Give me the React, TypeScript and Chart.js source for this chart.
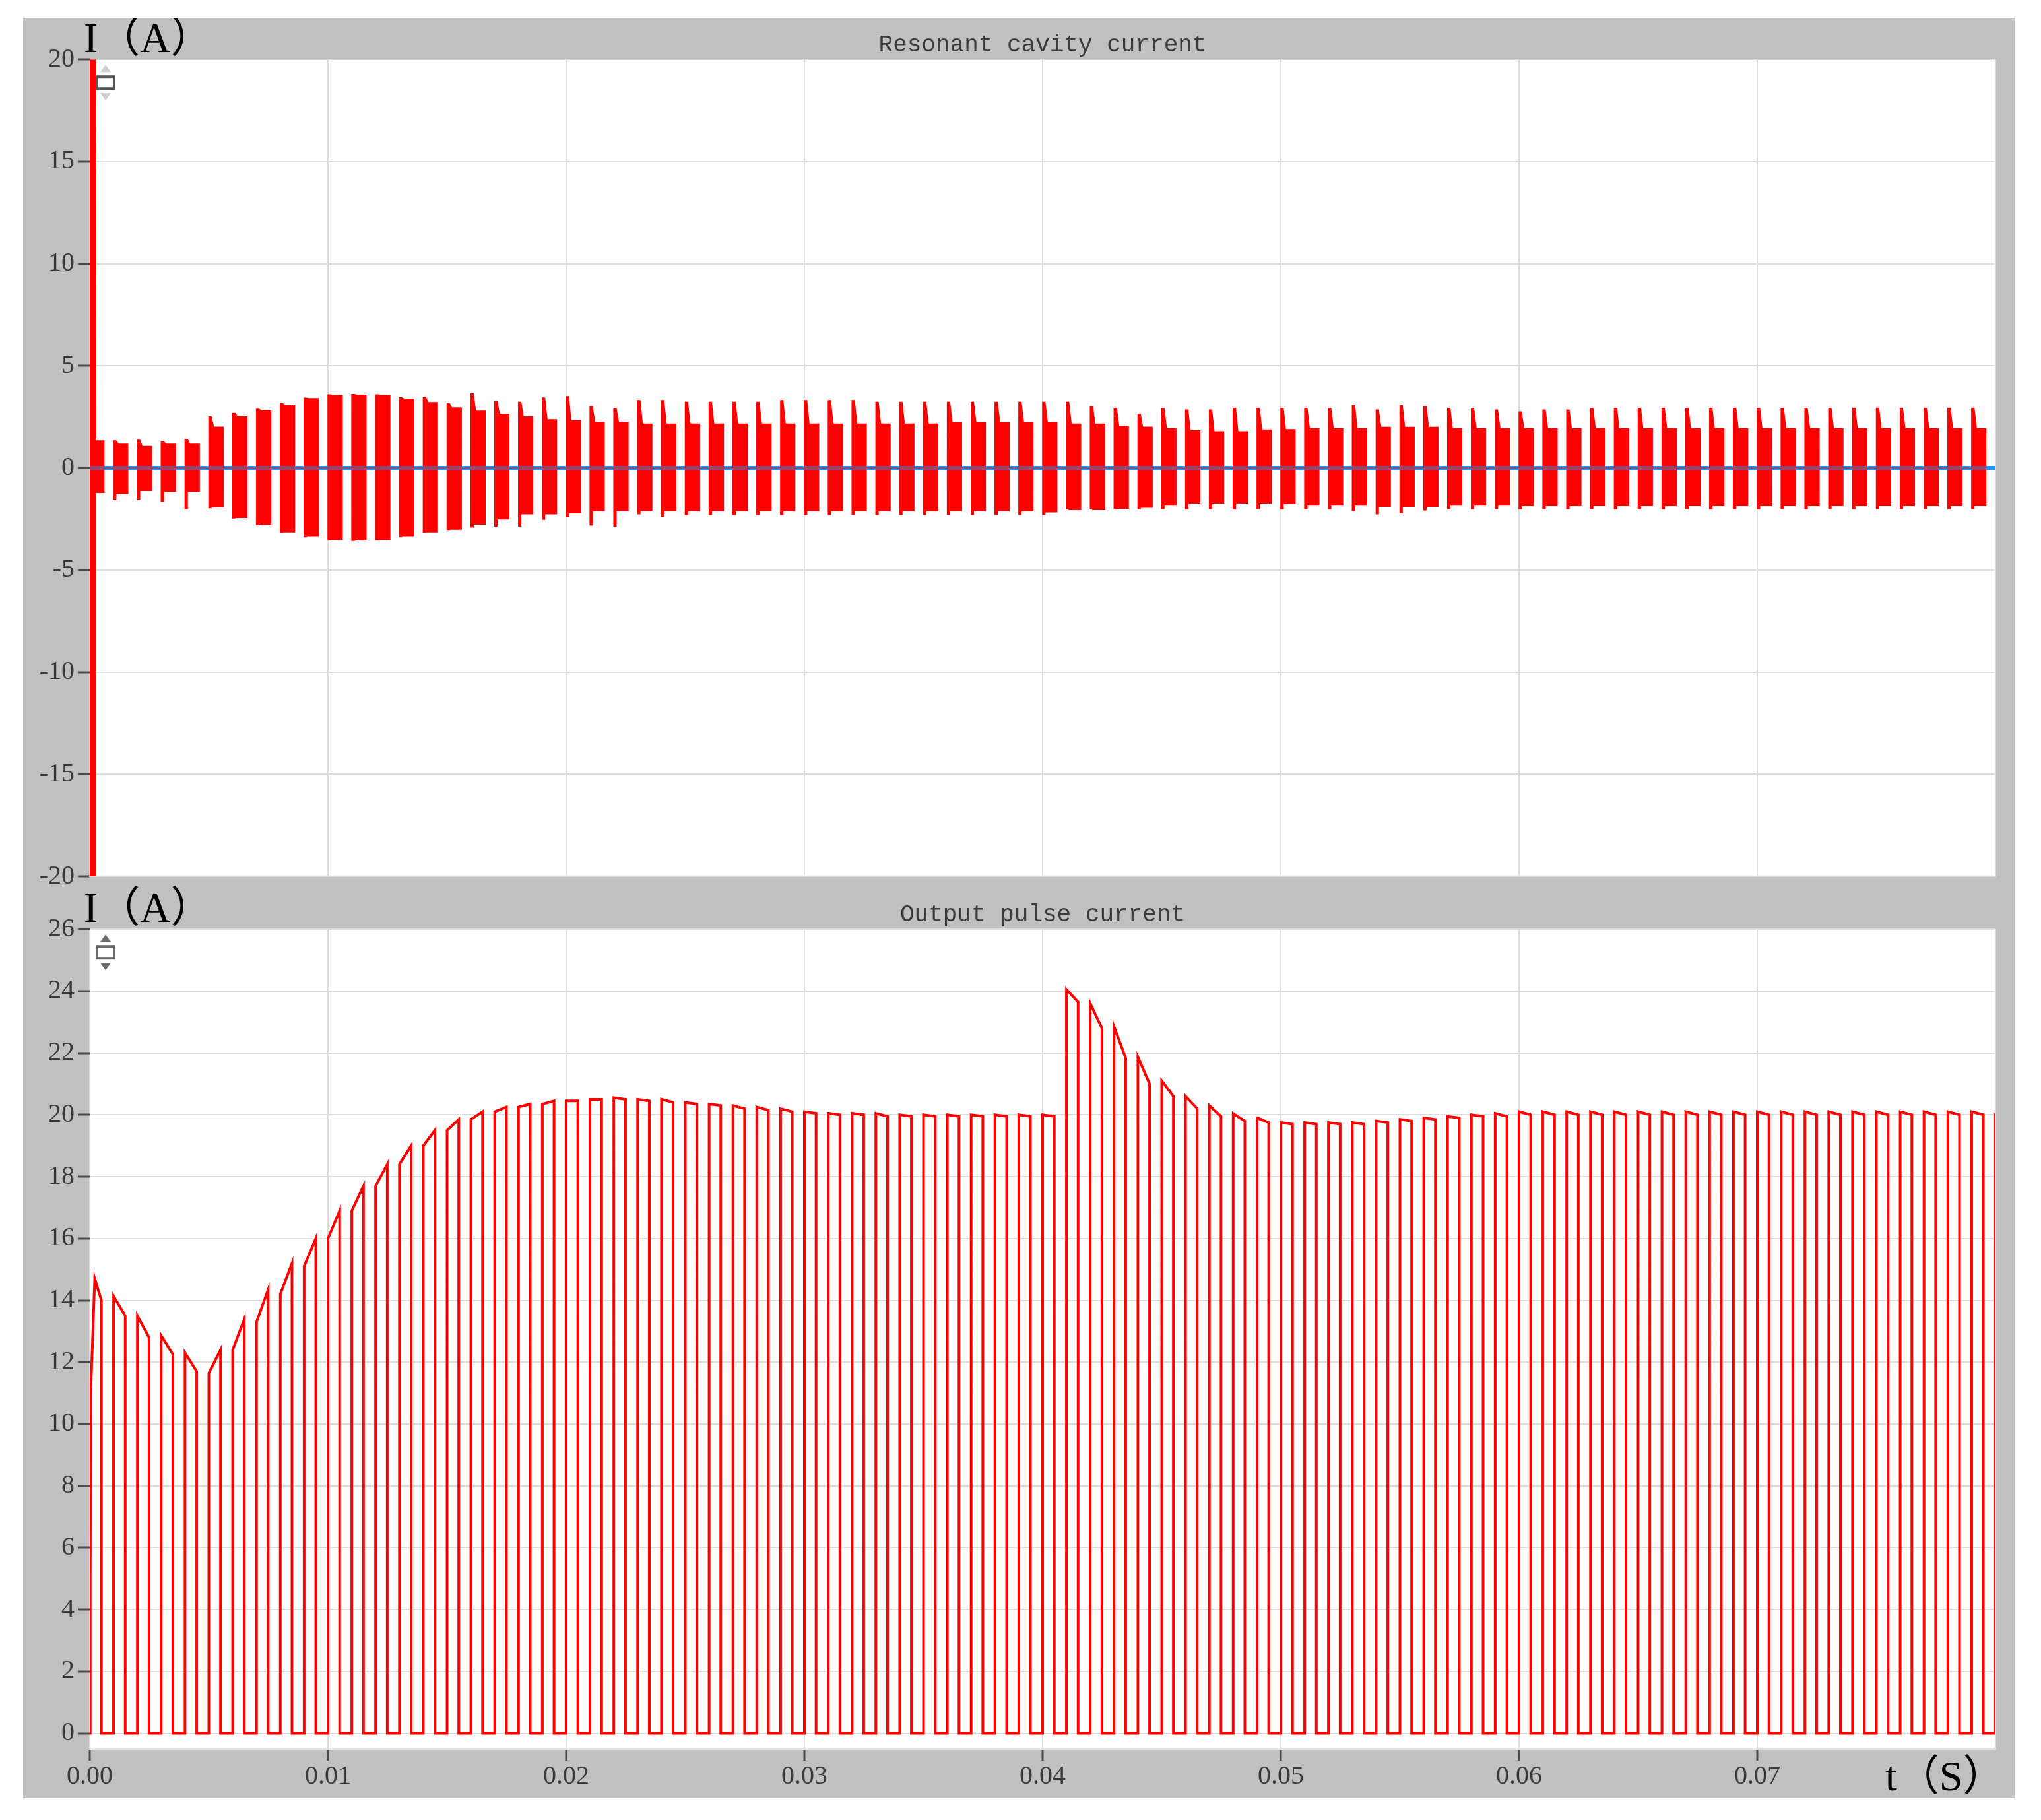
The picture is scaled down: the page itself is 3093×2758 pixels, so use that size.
import React, { useEffect, useRef } from 'react';
import { Chart, registerables } from 'chart.js';

Chart.register(...registerables);

// ---------------- data ----------------
const xTicks = [0, 0.01, 0.02, 0.03, 0.04, 0.05, 0.06, 0.07, 0.08];
const cavityYTicks = [-20, -15, -10, -5, 0, 5, 10, 15, 20];
const pulseYTicks = [0, 2, 4, 6, 8, 10, 12, 14, 16, 18, 20, 22, 24, 26];

// Resonant cavity current: one burst per switching period (80 bursts)
const burstPeak = [
  25, 1.33, 1.36, 1.28, 1.40, 2.50, 2.67, 2.88, 3.15, 3.42,
  3.58, 3.60, 3.58, 3.44, 3.47, 3.15, 3.63, 3.26, 3.22, 3.43,
  3.49, 3.00, 2.90, 3.30, 3.30, 3.22, 3.22, 3.22, 3.22, 3.30,
  3.30, 3.30, 3.30, 3.22, 3.22, 3.22, 3.22, 3.22, 3.22, 3.22,
  3.22, 3.22, 3.00, 2.92, 2.63, 2.90, 2.84, 2.84, 2.92, 2.92,
  2.92, 2.92, 2.92, 3.06, 2.84, 3.06, 3.00, 2.92, 2.92, 2.84,
  2.74, 2.84, 2.84, 2.92, 2.92, 2.92, 2.92, 2.92, 2.92, 2.92,
  2.92, 2.92, 2.92, 2.92, 2.93, 2.93, 2.93, 2.93, 2.93, 2.93,
];
const burstTop = [
  1.33, 1.17, 1.05, 1.17, 1.17, 2.00, 2.50, 2.80, 3.05, 3.40,
  3.55, 3.57, 3.55, 3.37, 3.20, 2.94, 2.78, 2.62, 2.50, 2.36,
  2.31, 2.23, 2.23, 2.15, 2.15, 2.15, 2.15, 2.15, 2.15, 2.15,
  2.15, 2.15, 2.15, 2.15, 2.15, 2.15, 2.22, 2.22, 2.22, 2.22,
  2.22, 2.15, 2.15, 2.04, 2.00, 1.93, 1.82, 1.77, 1.77, 1.86,
  1.88, 1.93, 1.93, 1.93, 1.99, 1.99, 1.99, 1.93, 1.93, 1.93,
  1.93, 1.93, 1.93, 1.93, 1.93, 1.93, 1.93, 1.93, 1.93, 1.93,
  1.93, 1.93, 1.93, 1.93, 1.93, 1.93, 1.93, 1.93, 1.93, 1.93,
];
const burstBottom = [
  -1.20, -1.25, -1.10, -1.14, -1.14, -1.90, -2.43, -2.76, -3.13, -3.35,
  -3.50, -3.53, -3.50, -3.35, -3.13, -3.00, -2.75, -2.50, -2.25, -2.25,
  -2.20, -2.10, -2.10, -2.10, -2.10, -2.10, -2.10, -2.10, -2.10, -2.10,
  -2.10, -2.10, -2.10, -2.10, -2.10, -2.10, -2.10, -2.10, -2.10, -2.10,
  -2.15, -2.04, -2.04, -1.98, -1.93, -1.82, -1.72, -1.72, -1.72, -1.72,
  -1.75, -1.82, -1.82, -1.82, -1.88, -1.88, -1.88, -1.82, -1.82, -1.82,
  -1.85, -1.85, -1.85, -1.85, -1.85, -1.85, -1.85, -1.85, -1.85, -1.85,
  -1.85, -1.85, -1.85, -1.85, -1.85, -1.85, -1.85, -1.85, -1.85, -1.85,
];
const burstNotch = [
  -25, -1.52, -1.52, -1.63, -2.00, -1.95, -2.45, -2.78, -3.15, -3.37,
  -3.52, -3.55, -3.52, -3.37, -3.15, -3.02, -2.90, -2.85, -2.85, -2.52,
  -2.40, -2.80, -2.85, -2.25, -2.36, -2.28, -2.28, -2.28, -2.28, -2.28,
  -2.28, -2.28, -2.28, -2.28, -2.28, -2.28, -2.28, -2.28, -2.28, -2.28,
  -2.28, -2.00, -2.00, -2.00, -2.00, -2.00, -2.00, -2.00, -2.00, -2.00,
  -2.00, -2.00, -2.00, -2.09, -2.25, -2.20, -2.06, -2.00, -2.00, -2.00,
  -2.00, -2.00, -2.00, -2.00, -2.00, -2.00, -2.00, -2.00, -2.00, -2.00,
  -2.00, -2.00, -2.00, -2.00, -2.00, -2.00, -2.00, -2.00, -2.00, -2.00,
];
const cavityBaseline = [0, 0];

// Output pulse current: value at the rising edge and at the falling edge of each pulse
const pulseInrush = [4.9, 11.0];
const pulseStart = [
  14.70, 14.14, 13.50, 12.86, 12.30, 11.65, 12.40, 13.30, 14.20, 15.10,
  16.00, 16.90, 17.70, 18.40, 19.00, 19.50, 19.85, 20.10, 20.25, 20.35,
  20.45, 20.50, 20.55, 20.50, 20.50, 20.40, 20.35, 20.30, 20.25, 20.20,
  20.10, 20.05, 20.05, 20.05, 20.00, 20.00, 20.00, 20.00, 20.00, 20.00,
  20.00, 24.05, 23.60, 22.85, 21.87, 21.10, 20.60, 20.30, 20.04, 19.90,
  19.75, 19.75, 19.75, 19.75, 19.80, 19.85, 19.90, 19.95, 20.00, 20.05,
  20.10, 20.10, 20.10, 20.10, 20.10, 20.10, 20.10, 20.10, 20.10, 20.10,
  20.10, 20.10, 20.10, 20.10, 20.10, 20.10, 20.10, 20.10, 20.10, 20.10,
];
const pulseEnd = [
  14.00, 13.50, 12.80, 12.25, 11.70, 12.40, 13.40, 14.35, 15.20, 16.00,
  16.90, 17.70, 18.40, 19.00, 19.50, 19.85, 20.10, 20.25, 20.35, 20.45,
  20.45, 20.50, 20.50, 20.45, 20.40, 20.35, 20.30, 20.20, 20.15, 20.10,
  20.05, 20.00, 20.00, 19.95, 19.95, 19.95, 19.95, 19.95, 19.95, 19.95,
  19.95, 23.65, 22.80, 21.83, 21.00, 20.60, 20.20, 19.95, 19.80, 19.75,
  19.70, 19.70, 19.70, 19.70, 19.75, 19.80, 19.85, 19.90, 19.95, 19.95,
  20.00, 20.00, 20.00, 20.00, 20.00, 20.00, 20.00, 20.00, 20.00, 20.00,
  20.00, 20.00, 20.00, 20.00, 20.00, 20.00, 20.00, 20.00, 20.00, 20.00,
];
const lastEdgeValue = 20.05;

// timing of the switching waveform
const PERIOD = 0.001;
const BURST_LEN = 0.0006;
const SPIKE_LEN = 0.0001;
const SHOULDER_LEN = 0.0002;
const INRUSH_LEN = 0.00024;
const PULSE_LEN = 0.00049;

// ---------------- styling ----------------
const GRID = '#dcdcdc';
const TICK_MARK = '#4a4a4a';
const LABEL = '#3a3a3a';
const RED = '#ff0000';
const BLUE = '#1a9bff';
const SERIF = "'Liberation Serif', 'DejaVu Serif', serif";
const UNIT_FONT = "64px 'Liberation Serif', 'Noto Sans CJK SC', serif";

type P = { x: number; y: number };

function buildCavity() {
  const upper: P[] = [];
  const lower: P[] = [];
  burstPeak.forEach((pk, k) => {
    const t0 = k * PERIOD;
    const spikeEnd = k === 0 ? INRUSH_LEN : t0 + SPIKE_LEN;
    const shoulder = k === 0 ? INRUSH_LEN + 0.00002 : t0 + SHOULDER_LEN;
    const t1 = t0 + BURST_LEN;
    upper.push({ x: t0, y: 0 }, { x: t0, y: pk }, { x: spikeEnd, y: pk },
      { x: shoulder, y: burstTop[k] }, { x: t1, y: burstTop[k] }, { x: t1, y: 0 });
    lower.push({ x: t0, y: 0 }, { x: t0, y: burstNotch[k] }, { x: spikeEnd, y: burstNotch[k] },
      { x: spikeEnd, y: burstBottom[k] }, { x: t1, y: burstBottom[k] }, { x: t1, y: 0 });
  });
  const base: P[] = cavityBaseline.map((v, i) => ({ x: i === 0 ? xTicks[0] : xTicks[xTicks.length - 1], y: v }));
  return { upper, lower, base };
}

function buildPulses() {
  const pts: P[] = [{ x: 0, y: 0 }, { x: 0.00002, y: pulseInrush[0] }, { x: 0.00004, y: pulseInrush[1] }];
  pulseStart.forEach((s, k) => {
    const t0 = k * PERIOD;
    const t1 = t0 + PULSE_LEN;
    if (k === 0) {
      pts.push({ x: 0.00021, y: s }, { x: t1, y: pulseEnd[k] }, { x: t1, y: 0 });
    } else {
      pts.push({ x: t0, y: 0 }, { x: t0, y: s }, { x: t1, y: pulseEnd[k] }, { x: t1, y: 0 });
    }
  });
  const tEnd = xTicks[xTicks.length - 1];
  pts.push({ x: tEnd, y: 0 }, { x: tEnd, y: lastEdgeValue });
  return pts;
}

const panelPlugin = {
  id: 'panelDecor',
  beforeDraw(chart: any) {
    const { ctx, chartArea: a } = chart;
    ctx.save();
    ctx.fillStyle = '#ffffff';
    ctx.fillRect(a.left, a.top, a.right - a.left, a.bottom - a.top);
    ctx.restore();
  },
  afterDraw(chart: any, _args: any, opts: any) {
    const { ctx, chartArea: a } = chart;
    ctx.save();
    ctx.font = UNIT_FONT;
    ctx.fillStyle = '#000000';
    ctx.textAlign = 'left';
    ctx.textBaseline = 'alphabetic';
    if (opts.yUnit) ctx.fillText(opts.yUnit, a.left - 9, a.top - 11);
    if (opts.xUnit) ctx.fillText(opts.xUnit, a.right - 167, a.bottom + 63);
    // small zoom widget icon in the corner of the plot
    const cx = a.left + 24;
    ctx.fillStyle = opts.arrowColor || '#c8c8c8';
    ctx.beginPath();
    ctx.moveTo(cx, a.top + 8);
    ctx.lineTo(cx + 8, a.top + 19);
    ctx.lineTo(cx - 8, a.top + 19);
    ctx.closePath();
    ctx.fill();
    ctx.beginPath();
    ctx.moveTo(cx, a.top + 62);
    ctx.lineTo(cx + 8, a.top + 51);
    ctx.lineTo(cx - 8, a.top + 51);
    ctx.closePath();
    ctx.fill();
    ctx.fillStyle = '#ffffff';
    ctx.strokeStyle = opts.boxColor || '#555555';
    ctx.lineWidth = 4;
    ctx.fillRect(a.left + 11, a.top + 26, 26, 18);
    ctx.strokeRect(a.left + 11, a.top + 26, 26, 18);
    ctx.restore();
  },
};

const setTicks = (values: number[]) => (s: any) => {
  s.ticks = values.map((v) => ({ value: v }));
};

function cavityConfig(): any {
  const { upper, lower, base } = buildCavity();
  return {
    type: 'line',
    data: {
      datasets: [
        { data: base, borderColor: 'rgba(26,155,255,0.45)', borderWidth: 6, pointRadius: 0, fill: false },
        { data: upper, borderColor: RED, backgroundColor: RED, borderWidth: 1.5, pointRadius: 0, fill: 'origin' },
        { data: lower, borderColor: RED, backgroundColor: RED, borderWidth: 1.5, pointRadius: 0, fill: 'origin' },
        { data: base, borderColor: BLUE, borderWidth: 6, pointRadius: 0, fill: false },
      ],
    },
    options: {
      responsive: false,
      animation: false,
      devicePixelRatio: 1,
      events: [],
      layout: { padding: { left: 0, right: 29, top: 0, bottom: 0 } },
      elements: { line: { tension: 0, borderJoinStyle: 'miter' }, point: { radius: 0 } },
      plugins: {
        legend: { display: false },
        tooltip: { enabled: false },
        title: {
          display: true,
          text: 'Resonant cavity current',
          fullSize: false,
          color: '#3c3c3c',
          font: { family: "'Liberation Mono', 'DejaVu Sans Mono', monospace", size: 36, weight: 'normal' },
          padding: { top: 20, bottom: 0 },
        },
        panelDecor: { yUnit: 'I（A）', arrowColor: '#cfcfcf', boxColor: '#555555' },
      },
      scales: {
        x: {
          type: 'linear',
          min: xTicks[0],
          max: xTicks[xTicks.length - 1],
          afterBuildTicks: setTicks(xTicks),
          afterFit: (s: any) => { s.height = 44; },
          ticks: { display: false },
          grid: { color: GRID, lineWidth: 2, drawTicks: false },
          border: { display: true, color: GRID, width: 2 },
        },
        y: {
          type: 'linear',
          min: cavityYTicks[0],
          max: cavityYTicks[cavityYTicks.length - 1],
          afterBuildTicks: setTicks(cavityYTicks),
          afterFit: (s: any) => { s.width = 101; },
          ticks: { font: { family: SERIF, size: 40 }, color: LABEL, padding: 5, callback: (v: any) => String(v) },
          grid: { color: GRID, lineWidth: 2, tickLength: 18, tickColor: TICK_MARK, tickWidth: 3 },
          border: { display: false },
        },
      },
    },
    plugins: [panelPlugin],
  };
}

function pulseConfig(): any {
  const pts = buildPulses();
  const lastX = xTicks[xTicks.length - 1];
  return {
    type: 'line',
    data: {
      datasets: [
        { data: pts, borderColor: RED, borderWidth: 4, pointRadius: 0, fill: false },
      ],
    },
    options: {
      responsive: false,
      animation: false,
      devicePixelRatio: 1,
      events: [],
      layout: { padding: { left: 0, right: 29, top: 0, bottom: 0 } },
      elements: { line: { tension: 0, borderJoinStyle: 'miter' }, point: { radius: 0 } },
      plugins: {
        legend: { display: false },
        tooltip: { enabled: false },
        title: {
          display: true,
          text: 'Output pulse current',
          fullSize: false,
          color: '#3c3c3c',
          font: { family: "'Liberation Mono', 'DejaVu Sans Mono', monospace", size: 36, weight: 'normal' },
          padding: { top: 25, bottom: 0 },
        },
        panelDecor: { yUnit: 'I（A）', xUnit: 't（S）', arrowColor: '#6a6a6a', boxColor: '#6a6a6a' },
      },
      scales: {
        x: {
          type: 'linear',
          min: xTicks[0],
          max: lastX,
          afterBuildTicks: setTicks(xTicks),
          afterFit: (s: any) => { s.height = 75; },
          ticks: {
            font: { family: SERIF, size: 40 },
            color: LABEL,
            padding: 0,
            maxRotation: 0,
            autoSkip: false,
            callback: (v: any) => (Number(v) >= lastX - 0.0005 ? '' : Number(v).toFixed(2)),
          },
          grid: {
            color: GRID,
            lineWidth: 2,
            tickLength: 18,
            tickWidth: 3,
            tickColor: (c: any) => (c.tick && c.tick.value >= lastX - 0.0005 ? 'rgba(0,0,0,0)' : TICK_MARK),
          },
          border: { display: true, color: '#e2e2e2', width: 3 },
        },
        y: {
          type: 'linear',
          min: -0.5,
          max: pulseYTicks[pulseYTicks.length - 1],
          afterBuildTicks: setTicks(pulseYTicks),
          afterFit: (s: any) => { s.width = 101; },
          ticks: { font: { family: SERIF, size: 40 }, color: LABEL, padding: 5, callback: (v: any) => String(v) },
          grid: { color: GRID, lineWidth: 2, tickLength: 18, tickColor: TICK_MARK, tickWidth: 3 },
          border: { display: false },
        },
      },
    },
    plugins: [panelPlugin],
  };
}

function ChartCanvas(props: { make: () => any; left: number; top: number; width: number; height: number }) {
  const ref = useRef<HTMLCanvasElement | null>(null);
  useEffect(() => {
    const chart = new Chart(ref.current as HTMLCanvasElement, props.make());
    return () => chart.destroy();
  }, []);
  return (
    <canvas
      ref={ref}
      width={props.width}
      height={props.height}
      style={{ position: 'absolute', left: props.left, top: props.top, width: props.width, height: props.height }}
    />
  );
}

export default function App() {
  return (
    <div style={{ position: 'absolute', left: 0, top: 0, width: 3093, height: 2758, background: '#ffffff', overflow: 'hidden' }}>
      <div style={{ position: 'absolute', left: 35, top: 27, width: 3018, height: 2698, background: '#c0c0c0' }} />
      <ChartCanvas make={cavityConfig} left={35} top={27} width={3018} height={1345} />
      <ChartCanvas make={pulseConfig} left={35} top={1340} width={3018} height={1385} />
    </div>
  );
}
